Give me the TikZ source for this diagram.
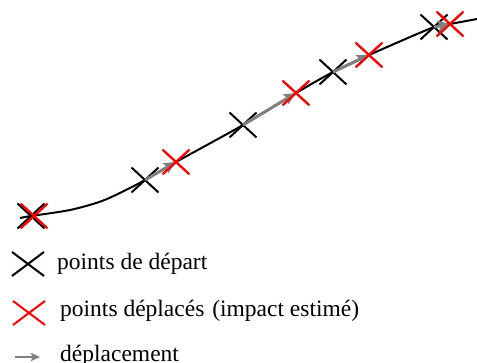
\documentclass[tikz,border=0pt]{standalone}
\usepackage{fontspec}
\setmainfont{Liberation Serif}
\usetikzlibrary{shapes.misc,arrows.meta}
\begin{document}
\begin{tikzpicture}[x=1pt,y=-1pt,
  blackx/.style={draw=black, cross out, line width=2pt, minimum width=25pt, minimum height=23pt, inner sep=0pt},
  redx/.style={draw=red, cross out, line width=2pt, minimum width=25pt, minimum height=23pt, inner sep=0pt},
  legx/.style={cross out, line width=2pt, minimum width=30pt, minimum height=22pt, inner sep=0pt},
  move/.style={draw=gray, line width=3pt, -{Stealth[length=12pt,width=11pt,inset=2pt]}},
  legmove/.style={draw=gray, line width=2.4pt, -{Stealth[length=9pt,width=8pt,inset=1.5pt]}},
  curveline/.style={draw=black, line width=2pt},
  legtext/.style={anchor=base west, inner sep=0pt, font=\fontsize{23.5}{28}\selectfont}]
\useasboundingbox (0,0) rectangle (477,363);
% points
\coordinate (c0) at (20,218);
\coordinate (c1) at (477,19);
\node[blackx] (b1) at (31,216) {};
\node[blackx] (b2) at (145,180) {};
\node[blackx] (b3) at (243,125) {};
\node[blackx] (b4) at (333,72) {};
\node[blackx] (b5) at (434,27) {};
% curve
\draw[curveline] plot[smooth, tension=0.5] coordinates {(c0) (b1.center) (70,210) (102,201) (130,188) (b2.center) (176,162) (b3.center) (296,93) (b4.center) (369,55) (b5.center) (450,24) (c1)};
% red points
\node[redx] (r1) at (34,216) {};
\node[redx] (r2) at (176,162) {};
\node[redx] (r3) at (296,93) {};
\node[redx] (r4) at (369,55) {};
\node[redx] (r5) at (450,24) {};
% displacements
\draw[move] (b2.center) -- (r2.center);
\draw[move] (b3.center) -- (r3.center);
\draw[move] (b4.center) -- (r4.center);
\draw[move] (b5.center) -- (r5.center);
% redraw red crosses on top
\foreach \p in {(34,216),(176,162),(296,93),(369,55),(450,24)}
  \draw[red, line width=2pt] \p +(-12.5,-11.5) -- +(12.5,11.5) \p +(-12.5,11.5) -- +(12.5,-11.5);
% legend
\node[legx, draw=black] (lb) at (28,264) {};
\node[legtext] (tb) at (57,270) {points de départ};
\node[legx, draw=red] (lr) at (29,313) {};
\node[legtext] (tr) at (60,317) {points déplacés\hspace{2pt} (impact estimé)};
\coordinate (la) at (15,357);
\coordinate (lz) at (40,357);
\draw[legmove] (la) -- (lz);
\node[legtext] (tm) at (60,362) {déplacement};
\end{tikzpicture}
\end{document}
